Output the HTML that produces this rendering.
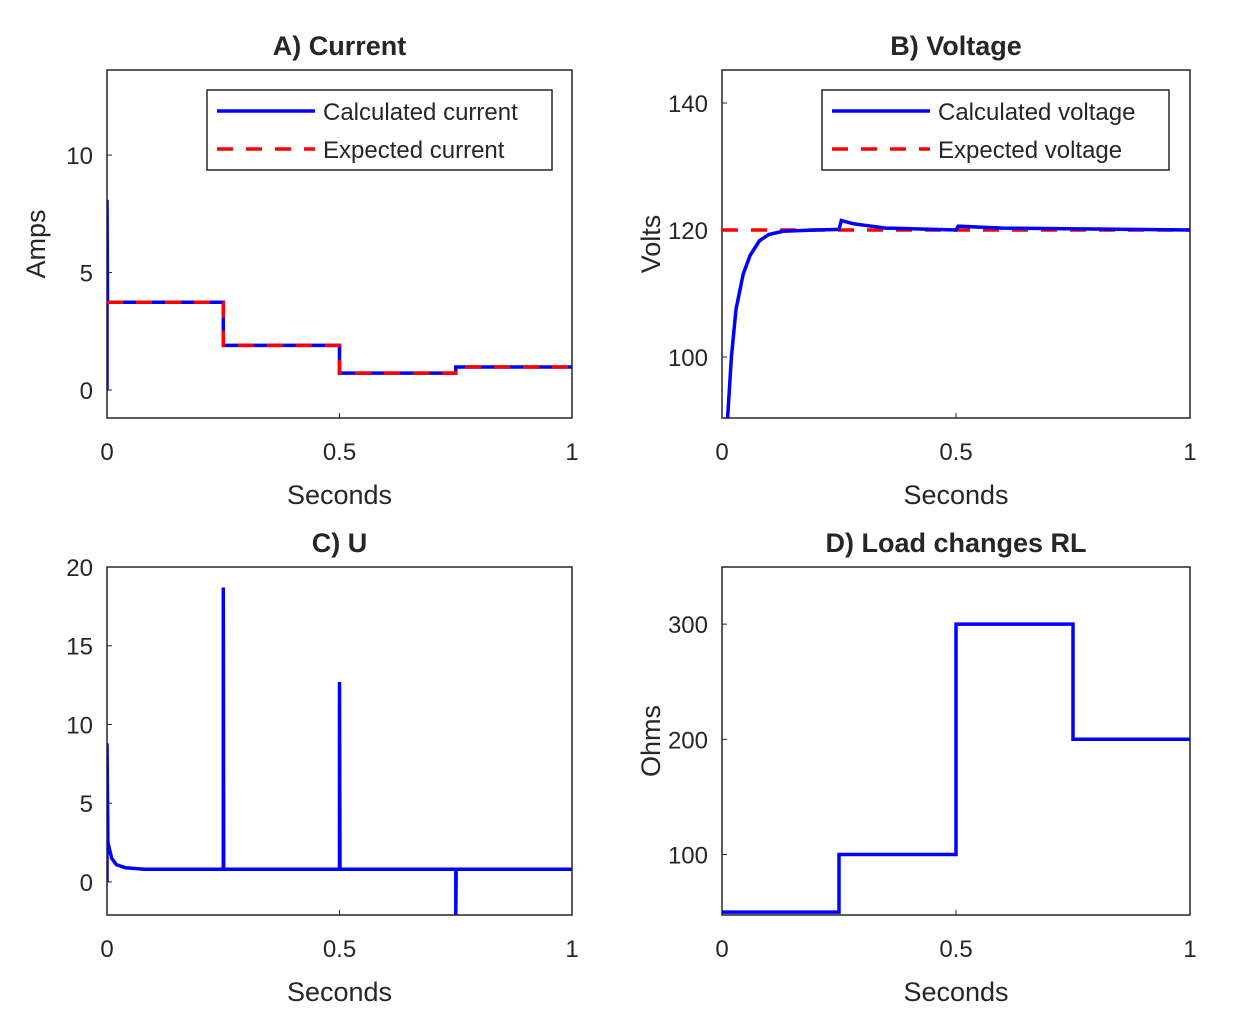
<!DOCTYPE html>
<html><head><meta charset="utf-8"><style>
body{margin:0;background:#fff}
svg text{font-family:"Liberation Sans",sans-serif;fill:#262626}
</style></head><body>
<svg id="chart" width="1235" height="1026" xmlns="http://www.w3.org/2000/svg"></svg>
<script>
// Panel A data
const aT=[0,0,0.001,0.002,0.25,0.25,0.5,0.5,0.75,0.75,1];
const aCalc=[0,8.1,3.8,3.74,3.74,1.9,1.9,0.72,0.72,0.98,0.98];
const aExpT=[0,0.25,0.25,0.5,0.5,0.75,0.75,1];
const aExp=[3.74,3.74,1.9,1.9,0.72,0.72,0.98,0.98];
// Panel B data
const bT=[0.012,0.02,0.03,0.045,0.06,0.08,0.1,0.13,0.2,0.25,0.255,0.28,0.35,0.5,0.505,0.6,1];
const bCalc=[90.4,100,107.5,113,116,118.3,119.3,119.8,120,120.1,121.5,121,120.3,120,120.6,120.3,120];
const bExpT=[0,1];
const bExp=[120,120];
// Panel C data
const cT=[0,0,0.002,0.01,0.02,0.04,0.08,0.25,0.25,0.251,0.5,0.5,0.501,0.75,0.75,0.751,1];
const cU=[0,8.8,2.5,1.5,1.1,0.9,0.8,0.8,18.7,0.8,0.8,12.7,0.8,0.8,-2.1,0.8,0.8];
// Panel D data
const dT=[0,0.25,0.25,0.5,0.5,0.75,0.75,1];
const dR=[50,50,100,100,300,300,200,200];

const svg=document.getElementById('chart');
const NS='http://www.w3.org/2000/svg';
function mk(tag,attrs,parent){const e=document.createElementNS(NS,tag);for(const k in attrs)e.setAttribute(k,attrs[k]);(parent||svg).appendChild(e);return e;}
function panel(o){
  const g=mk('g',{});
  
  
  const sx=v=>o.x0+(v-o.xmin)/(o.xmax-o.xmin)*(o.x1-o.x0);
  const sy=v=>o.y1-(v-o.ymin)/(o.ymax-o.ymin)*(o.y1-o.y0);
  const clipId='c'+o.name;
  const cp=mk('clipPath',{id:clipId},g);mk('rect',{x:o.x0,y:o.y0,width:o.x1-o.x0,height:o.y1-o.y0},cp);
  mk('rect',{x:o.x0,y:o.y0,width:o.x1-o.x0,height:o.y1-o.y0,fill:'#fff',stroke:'#262626','stroke-width':1.5},g);
  [0,0.5,1].forEach(v=>{
    const t=mk('text',{x:sx(v),y:o.y1+42,'font-size':24,'text-anchor':'middle'},g);t.textContent=String(v);
    
    
    mk('line',{x1:sx(v),x2:sx(v),y1:o.y1,y2:o.y1-5,stroke:'#262626'},g);
  });
  o.yticks.forEach(v=>{
    const t=mk('text',{x:o.x0-14,y:sy(v)+9,'font-size':24,'text-anchor':'end'},g);t.textContent=String(v);
    
    
    mk('line',{x1:o.x0,x2:o.x0+5,y1:sy(v),y2:sy(v),stroke:'#262626'},g);
  });
  const xt=mk('text',{x:(o.x0+o.x1)/2,y:o.y1+86,'font-size':27,'text-anchor':'middle'},g);xt.textContent='Seconds';
  
  
  const cy=(o.y0+o.y1)/2;
  const yt=mk('text',{x:o.x0-62,y:cy,'font-size':27,'text-anchor':'middle',transform:`rotate(-90 ${o.x0-62} ${cy})`},g);yt.textContent=o.ylabel;
  
  
  const tt=mk('text',{x:(o.x0+o.x1)/2,y:o.y0-15,'font-size':27,'font-weight':'bold','text-anchor':'middle',fill:'#000'},g);tt.textContent=o.title;
  
  
  o.series.forEach(s=>{
    const d=s.t.map((t,i)=>(i?'L':'M')+sx(t).toFixed(1)+' '+sy(s.v[i]).toFixed(1)).join(' ');
    const p=mk('path',{d,fill:'none',stroke:s.color,'stroke-width':3.5,'clip-path':`url(#${clipId})`,'stroke-dasharray':s.dash||'none'},g);
    
    
  });
  if(o.legend){
    const L=o.legend;
    const lg=mk('g',{},g);
    
    
    mk('rect',{x:L.x,y:L.y,width:L.w,height:80,fill:'#fff',stroke:'#262626','stroke-width':1.5},lg);
    L.items.forEach((it,i)=>{
      const yy=L.y+21+i*38;
      mk('line',{x1:L.x+10,x2:L.x+108,y1:yy,y2:yy,stroke:it.color,'stroke-width':3.5,'stroke-dasharray':it.dash||'none'},lg);
      const t=mk('text',{x:L.x+116,y:yy+9,'font-size':24},lg);t.textContent=it.label;
      
      
    });
  }
}
const B='#0000ff',R='#ff0000',D='16 13';
panel({name:'panel-a-current',x0:107,x1:572,y0:70,y1:418,xmin:0,xmax:1,ymin:-1.19,ymax:13.62,yticks:[0,5,10],ylabel:'Amps',title:'A) Current',
  series:[{name:'calculated-current-line',t:aT,v:aCalc,color:B},{name:'expected-current-line',t:aExpT,v:aExp,color:R,dash:D}],
  legend:{x:207,y:90,w:345,items:[{label:'Calculated current',color:B},{label:'Expected current',color:R,dash:D}]}});
panel({name:'panel-b-voltage',x0:722,x1:1190,y0:70,y1:418,xmin:0,xmax:1,ymin:90.4,ymax:145.2,yticks:[100,120,140],ylabel:'Volts',title:'B) Voltage',
  series:[{name:'expected-voltage-line',t:bExpT,v:bExp,color:R,dash:D},{name:'calculated-voltage-line',t:bT,v:bCalc,color:B}],
  legend:{x:822,y:90,w:347,items:[{label:'Calculated voltage',color:B},{label:'Expected voltage',color:R,dash:D}]}});
panel({name:'panel-c-u',x0:107,x1:572,y0:567,y1:915,xmin:0,xmax:1,ymin:-2.1,ymax:20,yticks:[0,5,10,15,20],ylabel:'',title:'C) U',
  series:[{name:'u-line',t:cT,v:cU,color:B}]});
panel({name:'panel-d-load',x0:722,x1:1190,y0:567,y1:915,xmin:0,xmax:1,ymin:47.5,ymax:349.6,yticks:[100,200,300],ylabel:'Ohms',title:'D) Load changes RL',
  series:[{name:'load-line',t:dT,v:dR,color:B}]});
</script>
</body></html>
